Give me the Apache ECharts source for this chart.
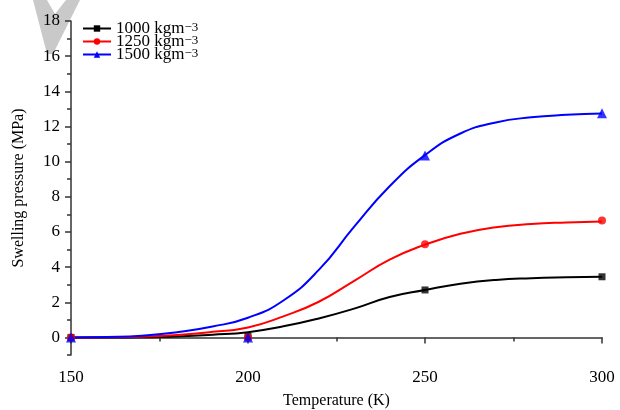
<!DOCTYPE html>
<html>
<head>
<meta charset="utf-8">
<script src="https://cdn.jsdelivr.net/npm/echarts@6/dist/echarts.min.js"></script>
<style>html,body{margin:0;padding:0;background:#fff}#c{width:620px;height:410px}</style>
</head>
<body>
<div id="c"></div>
<script>
// Series names (densities)
var seriesNames = ['1000 kgm', '1250 kgm', '1500 kgm'];
// Measured points
var measuredT = [150, 200, 250, 300];
var measured1000 = [0, 0.05, 2.7, 3.45];
var measured1250 = [0, 0, 5.3, 6.65];
var measured1500 = [0, 0, 10.35, 12.75];
// Fitted curves
var curveT = [150, 160, 170, 180, 190, 200, 210, 220, 230, 240, 250, 260, 270, 280, 290, 300];
var curve1000 = [0, 0, 0.01, 0.05, 0.15, 0.3, 0.63, 1.08, 1.64, 2.3, 2.7, 3.05, 3.27, 3.37, 3.42, 3.45];
var curve1250 = [0, 0.01, 0.04, 0.14, 0.32, 0.57, 1.2, 2.03, 3.22, 4.42, 5.28, 5.9, 6.27, 6.45, 6.54, 6.6];
var curve1500 = [0, 0.03, 0.1, 0.3, 0.62, 1.12, 2.1, 3.84, 6.3, 8.6, 10.37, 11.6, 12.23, 12.52, 12.66, 12.74];
// Tick labels
var xTicks = [150, 200, 250, 300];
var yMajor = [0, 2, 4, 6, 8, 10, 12, 14, 16, 18];
var yMinor = [-1, 1, 3, 5, 7, 9, 11, 13, 15, 17];

var colors = ['#000000', '#ff0000', '#0000ff'];
var symbols = ['rect', 'circle', 'triangle'];
var curves = [curve1000, curve1250, curve1500];
var measured = [measured1000, measured1250, measured1500];

function pairs(xs, ys) { return xs.map(function (x, i) { return [x, ys[i]]; }); }

var series = [];
for (var i = 0; i < 3; i++) {
  series.push({
    name: seriesNames[i], type: 'line', data: pairs(curveT, curves[i]),
    smooth: 0.5, showSymbol: false, symbol: symbols[i], symbolSize: 8,
    lineStyle: { color: colors[i], width: 2 }, itemStyle: { color: colors[i] },
    z: 3, silent: true
  });
}
for (var j = 0; j < 3; j++) {
  series.push({
    name: seriesNames[j], type: 'scatter', data: pairs(measuredT, measured[j]),
    symbol: symbols[j], symbolSize: j === 2 ? 10 : (j === 0 ? 7 : 8),
    itemStyle: { color: colors[j] }, z: 4, silent: true
  });
}

var axisColor = '#333';
var font = 'Liberation Serif, Times New Roman, serif';

var chart = echarts.init(document.getElementById('c'), null, { renderer: 'canvas' });
chart.setOption({
  animation: false,
  backgroundColor: '#fff',
  textStyle: { fontFamily: font },
  graphic: [{
    type: 'polygon', z: -10,
    shape: { points: [[33, 0], [47, 0], [55, 14], [66, 0], [80, 0], [53, 54], [47, 54]] },
    style: { fill: '#c9c9c9' }
  }],
  grid: { left: 71, right: 18, top: 21, bottom: 55, outerBoundsMode: 'none', containLabel: false },
  legend: {
    data: seriesNames, orient: 'vertical', left: 77, top: 15,
    itemWidth: 28, itemHeight: 8, itemGap: -4,
    formatter: function (n) { return '{n|' + n + '}{s|−3}'; },
    textStyle: {
      fontFamily: font, color: '#000',
      rich: {
        n: { fontSize: 17, lineHeight: 14, fontFamily: font, color: '#000' },
        s: { fontSize: 13, lineHeight: 12, verticalAlign: 'top', fontFamily: font, color: '#000' }
      }
    }
  },
  xAxis: {
    type: 'value', min: 150, max: 300, interval: 50,
    name: 'Temperature (K)', nameLocation: 'middle', nameGap: 38,
    nameTextStyle: { fontSize: 16, fontFamily: font, color: '#000' },
    axisLine: { lineStyle: { color: axisColor, width: 1.5 } },
    axisTick: { length: 6, inside: false, lineStyle: { color: axisColor, width: 1.5 } },
    minorTick: { show: true, splitNumber: 2, length: 4, lineStyle: { color: axisColor, width: 1.5 } },
    axisLabel: { fontSize: 17, margin: 14, color: '#000', fontFamily: font, customValues: xTicks },
    splitLine: { show: false }
  },
  yAxis: [{
    type: 'value', min: -1, max: 18,
    name: 'Swelling pressure (MPa)', nameLocation: 'middle', nameGap: 44,
    nameTextStyle: { fontSize: 16, fontFamily: font, color: '#000' },
    axisLine: { show: true, onZero: false, lineStyle: { color: axisColor, width: 1.5 } },
    axisTick: { show: true, length: 6, customValues: yMajor, lineStyle: { color: axisColor, width: 1.5 } },
    axisLabel: { fontSize: 17, margin: 11, color: '#000', fontFamily: font, customValues: yMajor },
    splitLine: { show: false }
  }, {
    type: 'value', min: -1, max: 18, position: 'left',
    axisLine: { show: false },
    axisTick: { show: true, length: 4, customValues: yMinor, lineStyle: { color: axisColor, width: 1.5 } },
    axisLabel: { show: false },
    splitLine: { show: false }
  }],
  series: series
});
</script>
</body>
</html>
